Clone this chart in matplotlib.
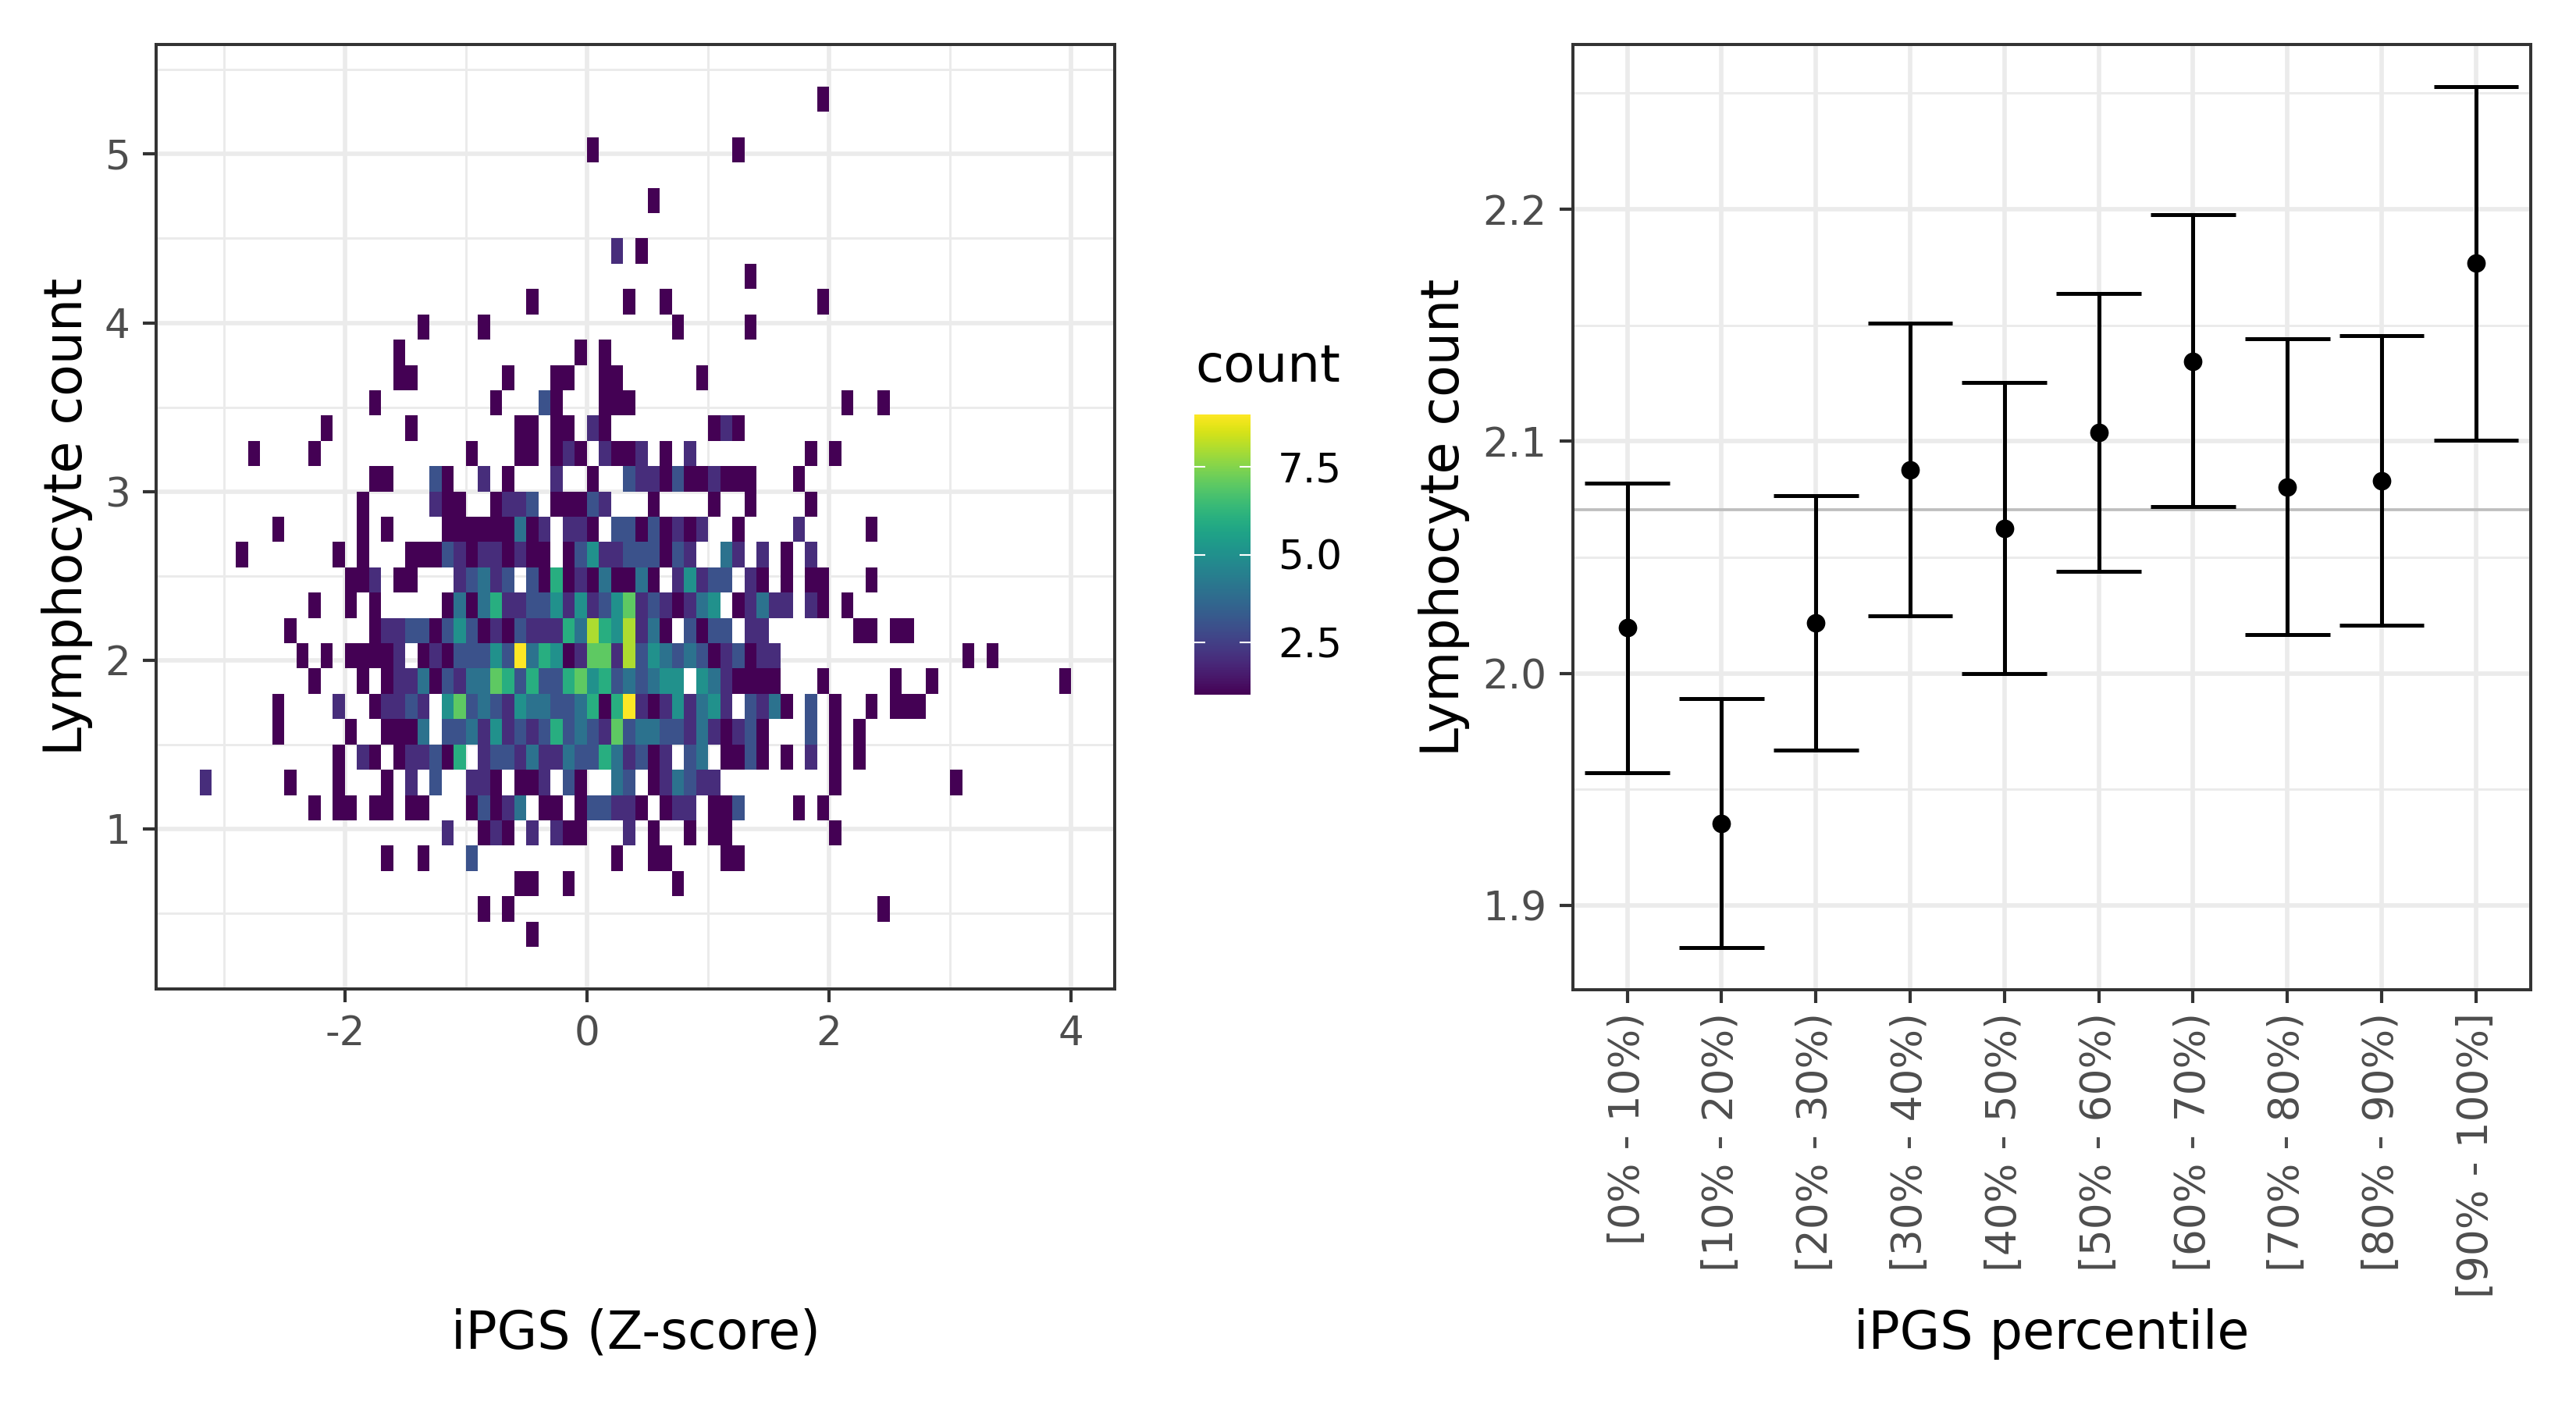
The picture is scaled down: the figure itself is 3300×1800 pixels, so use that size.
import numpy as np
import matplotlib
matplotlib.use('Agg')
import matplotlib.pyplot as plt

plt.rcParams['axes.unicode_minus'] = False

# left panel: 2d bin counts, one dict per row from top to bottom, {column: count}
x_bin_start = -3.2
x_bin_width = 0.1
y_bin_top = 5.4
y_bin_height = 0.15
n_cols = 72
count_rows = [
    {51: 1},
    {},
    {32: 1, 44: 1},
    {},
    {37: 1},
    {},
    {34: 2, 36: 1},
    {45: 1},
    {27: 1, 35: 1, 38: 1, 51: 1},
    {18: 1, 23: 1, 39: 1, 45: 1},
    {16: 1, 31: 1, 33: 1},
    {16: 1, 17: 1, 25: 1, 29: 1, 30: 1, 33: 1, 34: 1, 41: 1},
    {14: 1, 24: 1, 28: 3, 29: 1, 33: 1, 34: 1, 35: 1, 53: 1, 56: 1},
    {10: 1, 17: 1, 26: 1, 27: 1, 29: 1, 30: 1, 32: 2, 33: 1, 42: 1, 43: 2, 44: 1},
    {4: 1, 9: 1, 22: 1, 26: 1, 27: 1, 29: 1, 30: 2, 31: 1, 33: 2, 34: 1, 35: 1, 36: 2, 38: 1, 40: 2, 50: 1, 52: 1},
    {14: 1, 15: 1, 19: 3, 20: 1, 23: 2, 25: 1, 29: 2, 32: 1, 35: 3, 36: 2, 37: 2, 38: 1, 39: 3, 40: 1, 41: 1, 42: 2,
     43: 1, 44: 1, 45: 1, 49: 1},
    {13: 1, 19: 2, 20: 1, 21: 1, 24: 1, 25: 2, 26: 2, 27: 3, 29: 1, 30: 1, 31: 1, 32: 3, 33: 2, 37: 1, 42: 1, 45: 1,
     50: 1},
    {6: 1, 13: 1, 15: 1, 20: 1, 21: 1, 22: 1, 23: 1, 24: 1, 25: 1, 26: 4, 27: 1, 28: 2, 30: 2, 31: 2, 32: 1, 34: 3,
     35: 3, 36: 1, 37: 3, 38: 1, 39: 2, 40: 1, 41: 2, 44: 1, 49: 2, 55: 1},
    {3: 1, 11: 1, 13: 1, 17: 1, 18: 1, 19: 1, 20: 3, 21: 2, 22: 1, 23: 2, 24: 2, 25: 1, 26: 2, 27: 1, 28: 1, 30: 1,
     31: 3, 32: 5, 33: 2, 34: 2, 35: 3, 36: 3, 37: 3, 38: 1, 39: 3, 40: 2, 43: 4, 44: 2, 46: 2, 48: 1, 50: 2},
    {12: 1, 13: 1, 14: 2, 16: 1, 17: 1, 21: 2, 22: 3, 23: 4, 24: 2, 25: 3, 27: 3, 28: 1, 29: 6, 30: 1, 31: 2, 32: 1,
     33: 4, 34: 1, 35: 1, 36: 4, 37: 1, 39: 2, 40: 5, 41: 2, 42: 3, 43: 3, 45: 2, 46: 1, 48: 1, 50: 1, 51: 1, 55: 1},
    {9: 1, 12: 1, 14: 1, 20: 1, 21: 4, 22: 1, 23: 4, 24: 6, 25: 2, 26: 2, 27: 3, 28: 3, 29: 5, 30: 2, 31: 5, 32: 2,
     33: 3, 34: 5, 35: 7, 36: 2, 37: 3, 38: 2, 39: 1, 40: 2, 41: 4, 42: 5, 44: 1, 45: 2, 46: 4, 47: 2, 48: 2, 50: 2,
     51: 1, 53: 1},
    {7: 1, 14: 1, 15: 2, 16: 2, 17: 3, 18: 3, 19: 1, 20: 3, 21: 5, 22: 3, 23: 1, 24: 2, 25: 1, 26: 3, 27: 2, 28: 2,
     29: 2, 30: 6, 31: 4, 32: 8, 33: 6, 34: 5, 35: 8, 36: 2, 37: 4, 38: 1, 40: 3, 41: 1, 42: 3, 43: 3, 45: 2, 46: 2,
     54: 1, 55: 1, 57: 1, 58: 1},
    {8: 1, 10: 1, 12: 1, 13: 1, 14: 1, 15: 1, 16: 2, 18: 1, 19: 2, 20: 1, 21: 3, 22: 3, 23: 3, 24: 5, 25: 3, 26: 9,
     27: 4, 28: 6, 29: 5, 30: 1, 31: 2, 32: 7, 33: 7, 34: 2, 35: 8, 36: 3, 37: 5, 38: 4, 39: 3, 40: 4, 41: 3, 42: 1,
     43: 2, 44: 3, 45: 1, 46: 2, 47: 2, 63: 1, 65: 1},
    {9: 1, 13: 1, 15: 1, 16: 2, 17: 2, 18: 4, 19: 1, 20: 3, 21: 2, 22: 4, 23: 4, 24: 7, 25: 6, 26: 3, 27: 6, 28: 3,
     29: 3, 30: 6, 31: 7, 32: 5, 33: 6, 34: 3, 35: 4, 36: 3, 37: 4, 38: 5, 39: 5, 41: 5, 42: 4, 43: 2, 44: 1, 45: 1,
     46: 1, 47: 1, 51: 1, 57: 1, 60: 1, 71: 1},
    {6: 1, 11: 2, 14: 1, 15: 2, 16: 2, 17: 3, 18: 2, 20: 5, 21: 7, 22: 3, 23: 4, 24: 3, 25: 2, 26: 5, 27: 4, 28: 4,
     29: 3, 30: 3, 31: 4, 32: 6, 33: 1, 34: 6, 35: 9, 36: 2, 37: 1, 38: 2, 39: 5, 40: 2, 41: 4, 42: 5, 43: 2, 45: 3,
     46: 2, 47: 4, 48: 1, 50: 3, 52: 1, 55: 1, 57: 1, 58: 1, 59: 1},
    {6: 1, 12: 1, 15: 1, 16: 1, 17: 1, 18: 4, 20: 3, 21: 3, 22: 4, 23: 2, 24: 5, 25: 2, 26: 3, 27: 2, 28: 3, 29: 6,
     30: 3, 31: 4, 32: 3, 33: 2, 34: 7, 35: 3, 36: 4, 37: 4, 38: 3, 39: 3, 40: 2, 41: 4, 42: 2, 43: 1, 44: 2, 45: 3,
     46: 1, 50: 3, 52: 1, 54: 1},
    {11: 1, 13: 2, 14: 1, 16: 1, 17: 2, 18: 2, 19: 3, 20: 1, 21: 6, 23: 2, 24: 3, 25: 3, 26: 2, 27: 4, 28: 2, 29: 2,
     30: 4, 31: 3, 32: 3, 33: 6, 34: 4, 35: 2, 36: 3, 37: 1, 38: 2, 40: 3, 41: 4, 43: 1, 44: 1, 45: 3, 46: 1, 48: 1,
     50: 2, 52: 1, 54: 1},
    {0: 2, 7: 1, 11: 1, 15: 1, 17: 2, 19: 3, 22: 2, 23: 2, 24: 1, 26: 1, 27: 1, 28: 2, 30: 3, 31: 1, 34: 4, 35: 3,
     37: 1, 38: 2, 39: 4, 40: 3, 41: 2, 42: 2, 52: 1, 62: 1},
    {9: 1, 11: 1, 12: 1, 14: 1, 15: 1, 17: 1, 18: 1, 22: 1, 23: 3, 24: 1, 25: 2, 26: 4, 28: 1, 29: 1, 31: 1, 32: 3,
     33: 3, 34: 2, 35: 2, 36: 1, 38: 1, 39: 2, 40: 2, 42: 1, 43: 1, 44: 3, 49: 1, 51: 1},
    {20: 2, 23: 1, 24: 2, 25: 1, 27: 2, 29: 2, 30: 1, 31: 1, 35: 2, 37: 1, 40: 1, 42: 1, 43: 1, 52: 1},
    {15: 1, 18: 1, 22: 3, 34: 1, 37: 1, 38: 1, 43: 1, 44: 1},
    {26: 1, 27: 1, 30: 1, 39: 1},
    {23: 1, 25: 1, 56: 1},
    {27: 1},
]

# right panel: mean and interval per percentile bin
percentiles = ['[0% - 10%)', '[10% - 20%)', '[20% - 30%)', '[30% - 40%)', '[40% - 50%)',
               '[50% - 60%)', '[60% - 70%)', '[70% - 80%)', '[80% - 90%)', '[90% - 100%]']
means = [2.0196, 1.9353, 2.0217, 2.0877, 2.0625, 2.1038, 2.1344, 2.0803, 2.0830, 2.1768]
lower = [1.9572, 1.8816, 1.9670, 2.0247, 1.9999, 2.0438, 2.0719, 2.0166, 2.0207, 2.1006]
upper = [2.0819, 1.9892, 2.0765, 2.1508, 2.1254, 2.1637, 2.1977, 2.1441, 2.1455, 2.2530]
overall_mean = 2.0705

W, H = 3300, 1800
grid_col = '#ebebeb'
dark = '#333333'
tick_col = '#4d4d4d'
title_size = 16.0
tick_size = 12.4


def px_axes(fig, x0, y0, x1, y1):
    return fig.add_axes([x0 / W, 1 - y1 / H, (x1 - x0) / W, (y1 - y0) / H])


def style_axes(ax):
    ax.set_axisbelow(True)
    ax.grid(True, which='major', color=grid_col, lw=1.35)
    ax.grid(True, which='minor', color=grid_col, lw=0.7)
    ax.tick_params(which='major', length=4, width=1, color=dark, labelcolor=tick_col,
                   labelsize=tick_size, pad=4)
    ax.tick_params(which='minor', length=0)
    for s in ax.spines.values():
        s.set_color(dark)
        s.set_linewidth(0.95)


fig = plt.figure(figsize=(11, 6), dpi=300)

# heatmap
ax1 = px_axes(fig, 200, 57, 1428, 1267)
grid = np.full((len(count_rows), n_cols), np.nan)
for r, row in enumerate(count_rows):
    for c, v in row.items():
        grid[r, c] = v
x_edges = x_bin_start + x_bin_width * np.arange(n_cols + 1)
y_edges = y_bin_top - y_bin_height * np.arange(len(count_rows) + 1)
mesh = ax1.pcolormesh(x_edges, y_edges, np.ma.masked_invalid(grid), cmap='viridis', vmin=1, vmax=9,
                      antialiased=True, linewidth=0)
ax1.set_xlim(-3.56, 4.36)
ax1.set_ylim(0.05, 5.65)
ax1.set_xticks([-2, 0, 2, 4])
ax1.set_xticks([-3, -1, 1, 3], minor=True)
ax1.set_yticks([1, 2, 3, 4, 5])
ax1.set_yticks([0.5, 1.5, 2.5, 3.5, 4.5, 5.5], minor=True)
style_axes(ax1)
ax1.set_xlabel('iPGS (Z-score)', fontsize=title_size, va='center')
ax1.set_ylabel('Lymphocyte count', fontsize=title_size, va='center')
ax1.xaxis.set_label_coords(0.5, (1267 - 1709) / 1210)
ax1.yaxis.set_label_coords((86 - 200) / 1228, 0.5)

# colourbar
cax = px_axes(fig, 1529.5, 531, 1601.5, 890)
cbar = fig.colorbar(mesh, cax=cax)
cbar.set_ticks([2.5, 5.0, 7.5])
cbar.set_ticklabels(['2.5', '5.0', '7.5'])
cbar.outline.set_visible(False)
cax.tick_params(which='major', direction='in', length=3.4, width=0.5, color='white', left=True, right=True,
                labelsize=tick_size, labelcolor='black', pad=8.5)
cax.tick_params(which='minor', length=0)
fig.text(1531 / W, 1 - 471 / H, 'count', fontsize=15.8, ha='left', va='center')

# interval plot
ax2 = px_axes(fig, 2014.5, 57, 3242, 1268)
xs = np.arange(1, len(percentiles) + 1)
ax2.axhline(overall_mean, color='#bebebe', lw=0.9, zorder=1.5)
ax2.errorbar(xs, means, yerr=[np.array(means) - np.array(lower), np.array(upper) - np.array(means)],
             fmt='none', ecolor='black', elinewidth=1.2, capsize=0, zorder=3)
ax2.hlines(lower, xs - 0.45, xs + 0.45, color='black', lw=1.2, zorder=3)
ax2.hlines(upper, xs - 0.45, xs + 0.45, color='black', lw=1.2, zorder=3)
ax2.plot(xs, means, 'o', color='black', ms=5.7, mew=0, zorder=4)
ax2.set_xlim(0.42, 10.58)
ax2.set_ylim(1.8636, 2.271)
ax2.set_xticks(xs)
ax2.set_xticklabels(percentiles, rotation=90, ha='center', va='top', fontsize=12.8)
ax2.set_yticks([1.9, 2.0, 2.1, 2.2])
ax2.set_yticklabels(['1.9', '2.0', '2.1', '2.2'])
ax2.set_yticks([1.95, 2.05, 2.15, 2.25], minor=True)
style_axes(ax2)
ax2.tick_params(axis='x', which='major', labelsize=12.8, pad=3)
ax2.set_xlabel('iPGS percentile', fontsize=title_size, va='center')
ax2.set_ylabel('Lymphocyte count', fontsize=title_size, va='center')
ax2.xaxis.set_label_coords(0.5, (1268 - 1709) / 1211)
ax2.yaxis.set_label_coords((1850 - 2014.5) / 1227.5, 0.5)

fig.savefig('out.png', dpi=300, facecolor='white')
